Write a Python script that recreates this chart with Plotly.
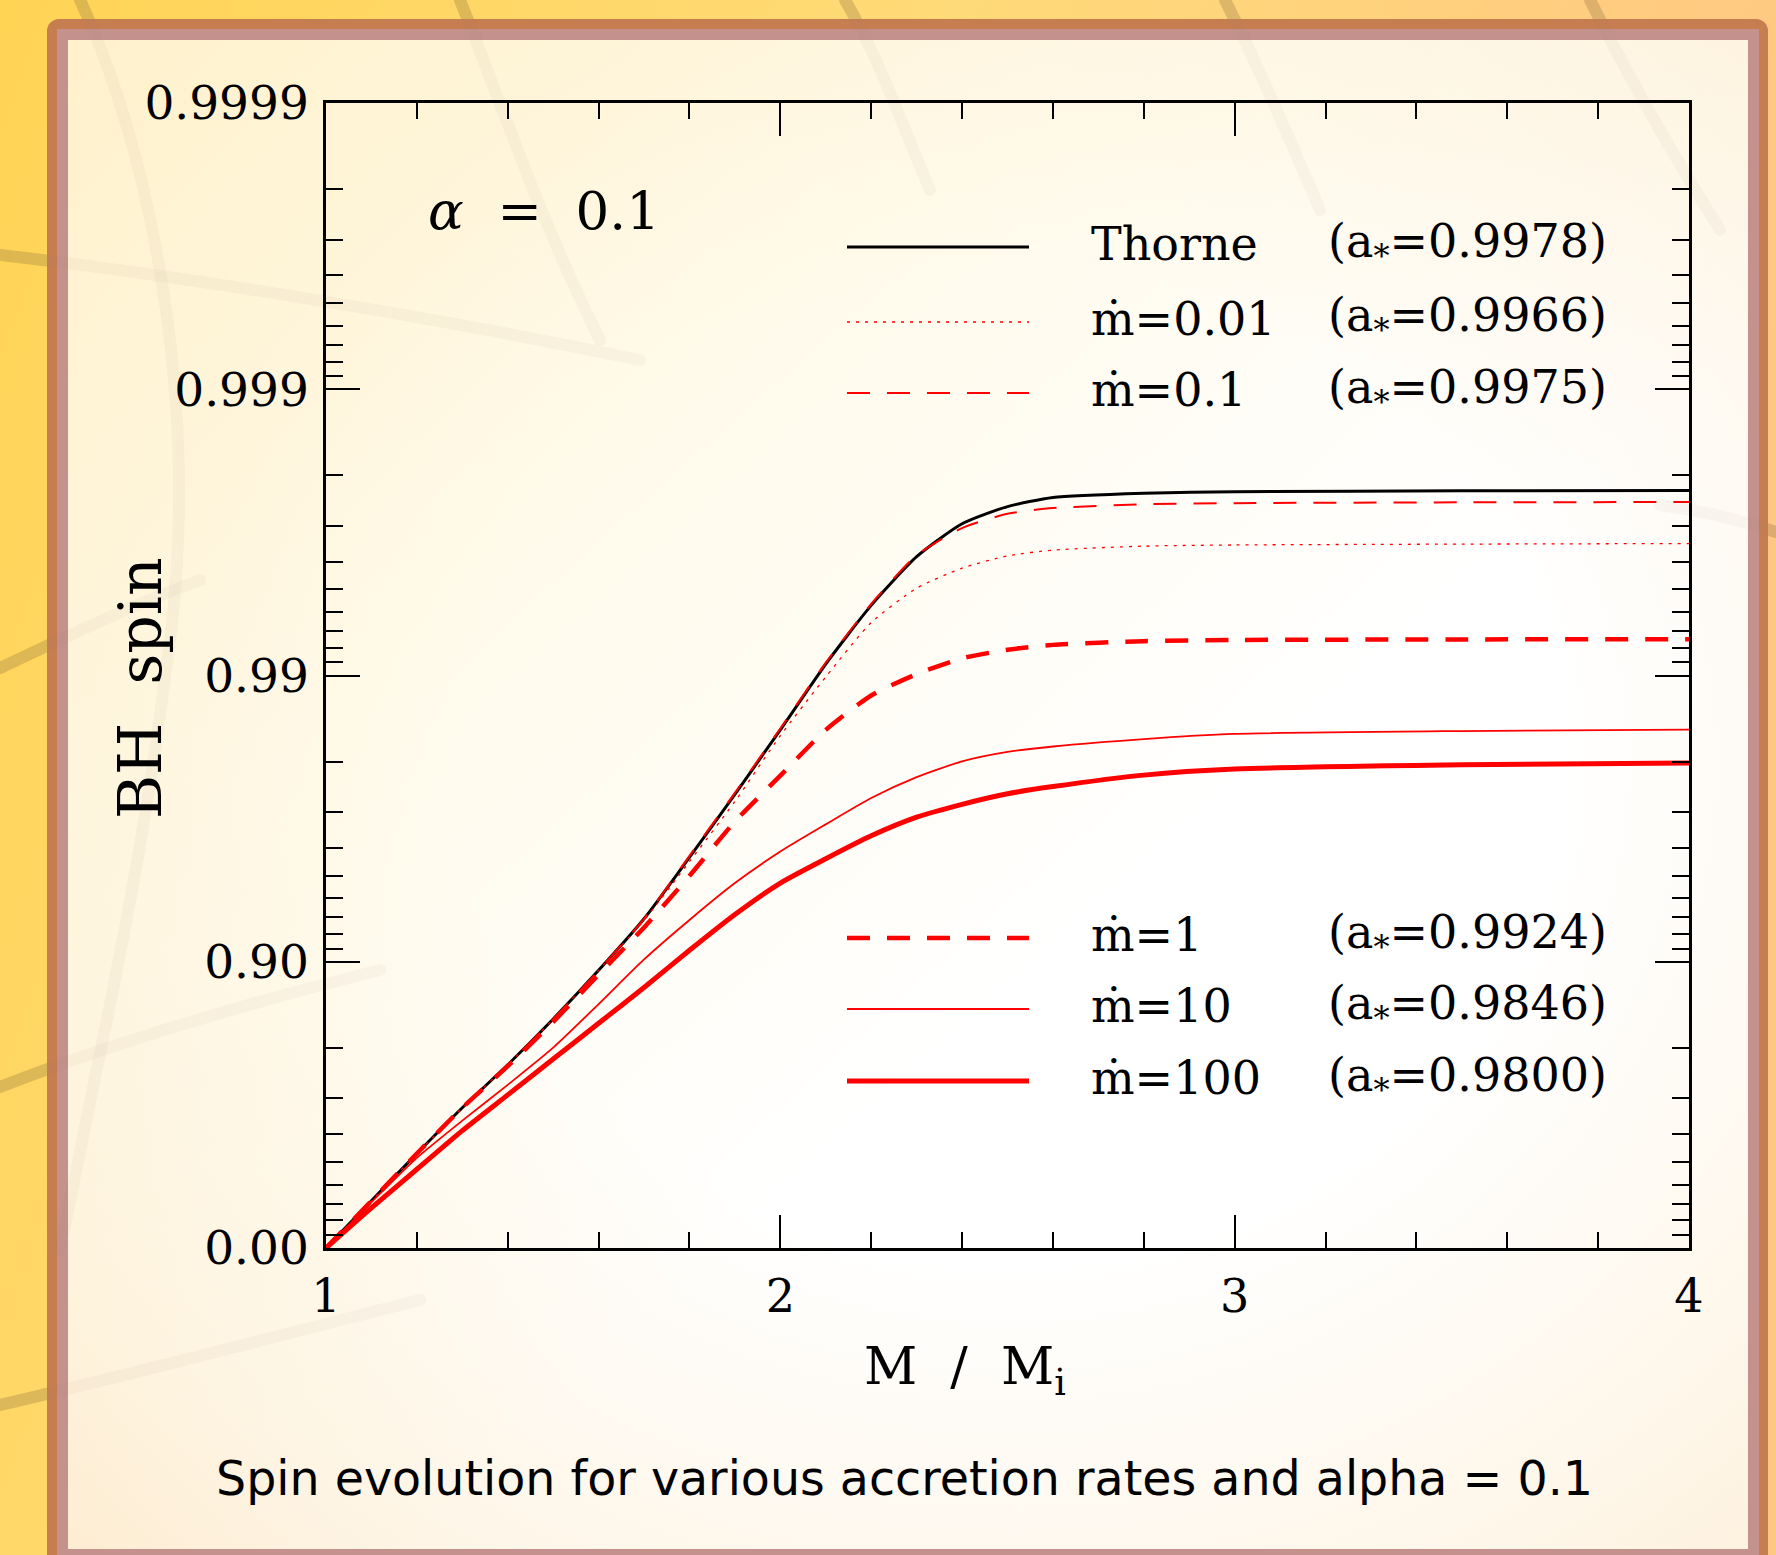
import base64
import numpy as np
import plotly.graph_objects as go

# ---------------- data (y values are in axis units: -log10(1 - spin)) ----------------
mass_ratio = [1.0, 1.1, 1.2, 1.3, 1.4, 1.5, 1.6, 1.7, 1.8, 1.9, 2.0, 2.1, 2.2, 2.3, 2.4,
              2.5, 2.6, 2.8, 3.0, 3.5, 4.0]
thorne_y = [0.0, 0.165, 0.33, 0.49, 0.64, 0.80, 0.97, 1.15, 1.365, 1.585, 1.81, 2.04,
            2.245, 2.415, 2.53, 2.59, 2.622, 2.637, 2.642, 2.645, 2.646]
mdot001_y = [0.0, 0.165, 0.33, 0.49, 0.64, 0.80, 0.97, 1.145, 1.35, 1.56, 1.79, 1.995,
             2.185, 2.305, 2.375, 2.418, 2.438, 2.452, 2.456, 2.459, 2.461]
mdot01_y = [0.0, 0.165, 0.33, 0.49, 0.64, 0.80, 0.97, 1.15, 1.37, 1.59, 1.815, 2.045,
            2.25, 2.42, 2.515, 2.565, 2.585, 2.598, 2.602, 2.605, 2.606]
mdot1_y = [0.0, 0.165, 0.33, 0.49, 0.635, 0.79, 0.955, 1.12, 1.30, 1.49, 1.65, 1.81,
           1.93, 2.005, 2.06, 2.09, 2.107, 2.12, 2.124, 2.126, 2.127]
mdot10_y = [0.0, 0.16, 0.315, 0.445, 0.57, 0.70, 0.852, 1.008, 1.146, 1.275, 1.385, 1.48,
            1.572, 1.645, 1.70, 1.733, 1.752, 1.778, 1.796, 1.806, 1.811]
mdot100_y = [0.0, 0.14, 0.275, 0.41, 0.535, 0.66, 0.785, 0.91, 1.04, 1.165, 1.275, 1.36,
             1.44, 1.505, 1.55, 1.587, 1.612, 1.652, 1.673, 1.688, 1.694]

series_names = ["Thorne", "ṁ=0.01", "ṁ=0.1", "ṁ=1", "ṁ=10", "ṁ=100"]
series_spin_labels = ["0.9978", "0.9966", "0.9975", "0.9924", "0.9846", "0.9800"]

y_tick_spins = [0.0, 0.90, 0.99, 0.999, 0.9999]
y_tick_labels = ["0.00", "0.90", "0.99", "0.999", "0.9999"]
y_minor_spins = ([0.1, 0.2, 0.3, 0.4, 0.5, 0.6, 0.7, 0.8] +
                 [0.91, 0.92, 0.93, 0.94, 0.95, 0.96, 0.97, 0.98] +
                 [0.991, 0.992, 0.993, 0.994, 0.995, 0.996, 0.997, 0.998] +
                 [0.9991, 0.9992, 0.9993, 0.9994, 0.9995, 0.9996, 0.9997, 0.9998])
x_tick_vals = [1, 2, 3, 4]
x_tick_labels = ["1", "2", "3", "4"]


def spin_axis(a):
    return [float(-np.log10(1.0 - v)) for v in a]


# ---------------- geometry ----------------
W, H = 1776, 1555
L, R, T, B = 326, 87, 103, 307
PW, PH = W - L - R, H - T - B


def px(xp):
    return (xp - L) / PW


def py(yp):
    return (H - B - yp) / PH


SERIF = "DejaVu Serif"

# ---------------- decorative background (SVG) ----------------
paths = [
    "M 80 0 C 150 150, 200 400, 170 640 S 110 1000, 60 1250",
    "M 460 0 C 500 100, 540 220, 600 340",
    "M 0 255 C 150 272, 400 310, 640 360",
    "M 845 0 C 880 60, 900 120, 930 190",
    "M 1225 0 C 1260 70, 1290 140, 1320 210",
    "M 1590 0 C 1630 80, 1670 150, 1720 230",
    "M 0 668 C 60 640, 120 610, 200 580",
    "M 0 1087 C 120 1040, 260 1000, 380 970",
    "M 0 1405 C 150 1370, 300 1330, 420 1300",
    "M 1776 532 C 1740 520, 1700 510, 1660 505",
]
path_svg = "".join(f'<path d="{p}"/>' for p in paths)
svg = f'''<svg xmlns="http://www.w3.org/2000/svg" width="{W}" height="{H}" viewBox="0 0 {W} {H}">
<defs>
<linearGradient id="outer" x1="0" y1="0" x2="1" y2="0.3">
<stop offset="0" stop-color="#FFD455"/>
<stop offset="0.5" stop-color="#FFDA78"/>
<stop offset="1" stop-color="#FFC684"/>
</linearGradient>
<radialGradient id="inner" cx="0.56" cy="0.48" r="0.78">
<stop offset="0" stop-color="#FFFFFF"/>
<stop offset="0.42" stop-color="#FFFFFF"/>
<stop offset="0.8" stop-color="#FEF5E6"/>
<stop offset="1" stop-color="#FDEBD2"/>
</radialGradient>
<linearGradient id="tint" x1="0" y1="0" x2="0.6" y2="0.6">
<stop offset="0" stop-color="#FFF2C8" stop-opacity="0.75"/>
<stop offset="1" stop-color="#FFF2C8" stop-opacity="0"/>
</linearGradient>
</defs>
<rect width="{W}" height="{H}" fill="url(#outer)"/>
<g fill="none" stroke="#7A5A2A" stroke-opacity="0.22" stroke-width="12" stroke-linecap="round">{path_svg}</g>
<rect x="47" y="19" width="1721" height="1570" rx="12" fill="#C67D50"/>
<rect x="57" y="29" width="1702" height="1550" fill="#C4918C"/>
<rect x="68" y="40" width="1680" height="1509" fill="url(#inner)"/>
<rect x="68" y="40" width="1680" height="1509" fill="url(#tint)"/>
<g fill="none" stroke="#9C8C78" stroke-opacity="0.06" stroke-width="12" stroke-linecap="round">{path_svg}</g>
</svg>'''
bg_uri = "data:image/svg+xml;base64," + base64.b64encode(svg.encode("utf-8")).decode("ascii")

# ---------------- traces ----------------
styles = [
    dict(color="black", width=3, dash="solid"),
    dict(color="red", width=1.3, dash="3px,6px"),
    dict(color="red", width=2, dash="23px,17px"),
    dict(color="red", width=4.5, dash="23px,17px"),
    dict(color="red", width=1.8, dash="solid"),
    dict(color="red", width=5, dash="solid"),
]
series_values = [thorne_y, mdot001_y, mdot01_y, mdot1_y, mdot10_y, mdot100_y]

fig = go.Figure()
for name, vals, st in zip(series_names, series_values, styles):
    fig.add_trace(go.Scatter(
        x=mass_ratio, y=vals, mode="lines", name=name,
        line=dict(color=st["color"], width=st["width"], dash=st["dash"],
                  shape="spline", smoothing=0.6),
        showlegend=False, hoverinfo="skip"))

# ---------------- legend (drawn manually) ----------------
legend_rows_px = [247, 322, 393, 938, 1009, 1081]
shapes = []
annotations = []
for name, spin_lbl, st, ry in zip(series_names, series_spin_labels, styles, legend_rows_px):
    shapes.append(dict(type="line", xref="paper", yref="paper",
                       x0=px(847), x1=px(1029), y0=py(ry), y1=py(ry),
                       line=dict(color=st["color"], width=st["width"], dash=st["dash"])))
    annotations.append(dict(text=name, x=px(1089), y=py(ry - 3), xref="paper", yref="paper",
                            xanchor="left", yanchor="middle", showarrow=False,
                            font=dict(family=SERIF, size=46, color="black")))
    annotations.append(dict(text=f"(a<sub>*</sub>=" + spin_lbl + ")", x=px(1326), y=py(ry - 3),
                            xref="paper", yref="paper",
                            xanchor="left", yanchor="middle", showarrow=False,
                            font=dict(family=SERIF, size=46, color="black")))

annotations.append(dict(text="<i>α</i>\u00a0\u00a0=\u00a0\u00a00.1", x=px(426), y=py(210),
                        xref="paper", yref="paper", xanchor="left", yanchor="middle",
                        showarrow=False, font=dict(family=SERIF, size=53, color="black")))
annotations.append(dict(text="M\u00a0\u00a0/\u00a0\u00a0M<sub>i</sub>", x=px(965), y=py(1370),
                        xref="paper", yref="paper", xanchor="center", yanchor="middle",
                        showarrow=False, font=dict(family=SERIF, size=52, color="black")))
annotations.append(dict(text="BH\u00a0\u00a0spin", x=px(140), y=py(688), textangle=-90,
                        xref="paper", yref="paper", xanchor="center", yanchor="middle",
                        showarrow=False, font=dict(family=SERIF, size=60, color="black")))
annotations.append(dict(text="Spin evolution for various accretion rates and alpha = 0.1",
                        x=px(904), y=py(1478), xref="paper", yref="paper",
                        xanchor="center", yanchor="middle", showarrow=False,
                        font=dict(family="DejaVu Sans", size=47.5, color="black")))

fig.update_layout(
    width=W, height=H,
    margin=dict(l=L, r=R, t=T, b=B, pad=0),
    paper_bgcolor="#FFF8EC",
    plot_bgcolor="rgba(0,0,0,0)",
    showlegend=False,
    shapes=shapes,
    annotations=annotations,
    images=[dict(source=bg_uri, xref="paper", yref="paper",
                 x=-L / PW, y=1 + T / PH, sizex=W / PW, sizey=H / PH,
                 xanchor="left", yanchor="top", sizing="stretch", layer="below")],
    xaxis=dict(
        range=[1, 4], showgrid=False, zeroline=False,
        showline=True, linecolor="black", linewidth=2.5, mirror="allticks",
        ticks="inside", ticklen=33, tickwidth=2, tickcolor="black",
        tickmode="array", tickvals=x_tick_vals, ticktext=x_tick_labels,
        tickfont=dict(family=SERIF, size=46, color="black"),
        ticklabelstandoff=6,
        minor=dict(ticks="inside", ticklen=16, tickwidth=2, tickcolor="black",
                   tick0=1, dtick=0.2, showgrid=False),
    ),
    yaxis=dict(
        range=[0, 4], showgrid=False, zeroline=False,
        showline=True, linecolor="black", linewidth=2.5, mirror="allticks",
        ticks="inside", ticklen=34, tickwidth=2, tickcolor="black",
        tickmode="array", tickvals=spin_axis(y_tick_spins), ticktext=y_tick_labels,
        tickfont=dict(family=SERIF, size=47, color="black"),
        ticklabelstandoff=5,
        minor=dict(ticks="inside", ticklen=17, tickwidth=2, tickcolor="black",
                   tickmode="array", tickvals=spin_axis(y_minor_spins), showgrid=False),
    ),
)

fig.write_html("out.html", config={"displayModeBar": False},
               post_script="document.body.style.margin='0';document.body.style.overflow='hidden';")
